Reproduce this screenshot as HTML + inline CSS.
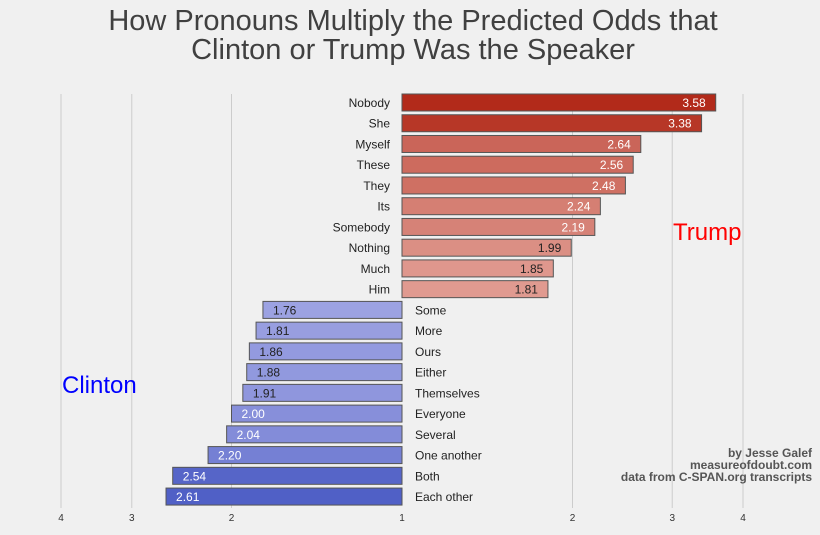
<!DOCTYPE html>
<html><head><meta charset="utf-8"><style>
body{margin:0;background:#f0f0f0;font-family:"Liberation Sans",sans-serif;}
svg text{font-family:"Liberation Sans",sans-serif;}
</style></head><body>
<svg id="chart" width="820" height="530">
<rect width="820" height="530" fill="#f0f0f0"/>
<text x="413" y="30" text-anchor="middle" font-size="29" fill="#404040">How Pronouns Multiply the Predicted Odds that</text>
<text x="413" y="59" text-anchor="middle" font-size="29" fill="#404040">Clinton or Trump Was the Speaker</text>
<g id="grid"></g><g id="bars"></g>
<text x="673" y="240" font-size="24" fill="#ff0000">Trump</text>
<text x="62" y="393" font-size="24" fill="#0000ff">Clinton</text>
<g font-size="12" font-weight="bold" fill="#555" text-anchor="end">
<text x="812" y="457">by Jesse Galef</text>
<text x="812" y="469">measureofdoubt.com</text>
<text x="812" y="481">data from C-SPAN.org transcripts</text>
</g>
</svg>
<script>
const trumpWords=["Nobody","She","Myself","These","They","Its","Somebody","Nothing","Much","Him"];
const trumpValues=[3.58,3.38,2.64,2.56,2.48,2.24,2.19,1.99,1.85,1.81];
const clintonWords=["Some","More","Ours","Either","Themselves","Everyone","Several","One another","Both","Each other"];
const clintonValues=[1.76,1.81,1.86,1.88,1.91,2.00,2.04,2.20,2.54,2.61];
const tickValues=[4,3,2,1,2,3,4];
const tickSides=[-1,-1,-1,0,1,1,1];

const NS="http://www.w3.org/2000/svg";
const X0=402,K=170.5,TOP=94,PITCH=20.74,BH=17;
function xs(v,side){return X0+side*K*Math.log2(v);}
function yRow(i){return TOP+i*PITCH;}
function mk(t,a,p){const e=document.createElementNS(NS,t);for(const k in a)e.setAttribute(k,a[k]);p.appendChild(e);return e;}
function mix(c1,c2,t){return "rgb("+c1.map((c,i)=>Math.round(c+(c2[i]-c)*t)).join(",")+")";}
const grid=document.getElementById('grid'),bars=document.getElementById('bars');
tickValues.forEach((v,i)=>{
  const x=xs(v,tickSides[i]||0);
  if(tickSides[i]!==0){const l=mk('line',{x1:x,x2:x,y1:94,y2:508,stroke:'#cccccc','stroke-width':1},grid);
  
  }
  const t=mk('text',{x:x,y:521,'text-anchor':'middle','font-size':10,fill:'#333'},grid);t.textContent=v;
  
  
});
const tMax=Math.max(...trumpValues),tMin=Math.min(...trumpValues);
trumpValues.forEach((v,i)=>{
  const y=yRow(i),x1=xs(v,1);
  const col=mix([178,42,26],[224,154,144],(tMax-v)/(tMax-tMin));
  const r=mk('rect',{x:X0,y:y,width:x1-X0,height:BH,fill:col,stroke:'#555','stroke-width':1},bars);
  
  
  const lt=mk('text',{x:X0-12,y:y+13,'text-anchor':'end','font-size':12,fill:'#222'},bars);lt.textContent=trumpWords[i];
  
  
  const vt=mk('text',{x:x1-10,y:y+13,'text-anchor':'end','font-size':12,fill:v>=2.1?'#fff':'#222'},bars);vt.textContent=v.toFixed(2);
  
  
});
const cMax=Math.max(...clintonValues),cMin=Math.min(...clintonValues);
clintonValues.forEach((v,i)=>{
  const y=yRow(i+10),x1=xs(v,-1);
  const col=mix([156,162,226],[80,96,198],(v-cMin)/(cMax-cMin));
  const r=mk('rect',{x:x1,y:y,width:X0-x1,height:BH,fill:col,stroke:'#555','stroke-width':1},bars);
  
  
  const lt=mk('text',{x:X0+13,y:y+13,'font-size':12,fill:'#222'},bars);lt.textContent=clintonWords[i];
  
  
  const vt=mk('text',{x:x1+10,y:y+13,'font-size':12,fill:v>=1.95?'#fff':'#222'},bars);vt.textContent=v.toFixed(2);
  
  
});
</script>
</body></html>
